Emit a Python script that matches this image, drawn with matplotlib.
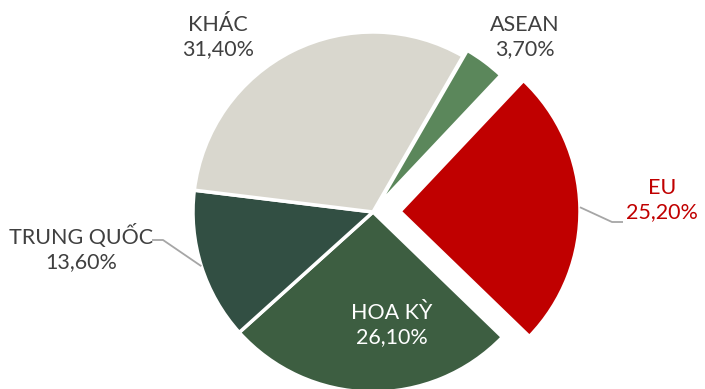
import numpy as np
import matplotlib
matplotlib.use("Agg")
import matplotlib.pyplot as plt

# Market shares (%)
categories = ["ASEAN", "EU", "HOA KỲ", "TRUNG QUỐC", "KHÁC"]
shares = [3.7, 25.2, 26.1, 13.6, 31.4]
share_labels = ["3,70%", "25,20%", "26,10%", "13,60%", "31,40%"]

colors = ["#5b875b", "#c00000", "#3d5e41", "#324f43", "#d9d7ce"]
explode = [0.04, 0.15, 0, 0, 0]

W, H, DPI = 705, 389, 100
CX, CY, R = 373, 212, 180  # pie centre and radius in pixels


def px(x, y):
    """Pixel position (from top-left) -> data coordinates."""
    return (x - CX) / R, (CY - y) / R


fig = plt.figure(figsize=(W / DPI, H / DPI), dpi=DPI)
ax = fig.add_axes([0, 0, 1, 1])

wedges, _ = ax.pie(
    shares,
    colors=colors,
    explode=explode,
    startangle=60,
    counterclock=False,
    radius=1.0,
    wedgeprops=dict(edgecolor="white", linewidth=2.5),
)

ax.set_xlim(-CX / R, (W - CX) / R)
ax.set_ylim((CY - H) / R, CY / R)
ax.set_aspect("equal")
ax.axis("off")

font = ["Lato", "DejaVu Sans"]
fs = 15.5
gray = "#404040"
lead = "#a6a6a6"


def arc_point(w):
    th = np.deg2rad((w.theta1 + w.theta2) / 2)
    cx, cy = w.center
    return cx + w.r * np.cos(th), cy + w.r * np.sin(th)


# Labels
text_pos = {
    "KHÁC": (218, 37, gray),
    "ASEAN": (525, 37, gray),
    "EU": (662, 200, "#c00000"),
    "TRUNG QUỐC": (81, 248, gray),
    "HOA KỲ": (392, 325, "white"),
}

for name, lab, w in zip(categories, share_labels, wedges):
    x, y, c = text_pos[name]
    tx, ty = px(x, y)
    ax.text(tx, ty, f"{name}\n{lab}", ha="center", va="center",
            fontsize=fs, color=c, family=font, linespacing=1.25)

# Leader lines
eu = wedges[categories.index("EU")]
ex, ey = arc_point(eu)
k1 = px(612, 222)
k2 = px(623, 222)
ax.plot([ex, k1[0], k2[0]], [ey, k1[1], k2[1]], color=lead, lw=1.3,
        solid_capstyle="butt")

tq = wedges[categories.index("TRUNG QUỐC")]
qx, qy = arc_point(tq)
m1 = px(163, 240)
m2 = px(152, 240)
ax.plot([qx, m1[0], m2[0]], [qy, m1[1], m2[1]], color=lead, lw=1.3,
        solid_capstyle="butt")

fig.savefig("out.png", dpi=DPI)
